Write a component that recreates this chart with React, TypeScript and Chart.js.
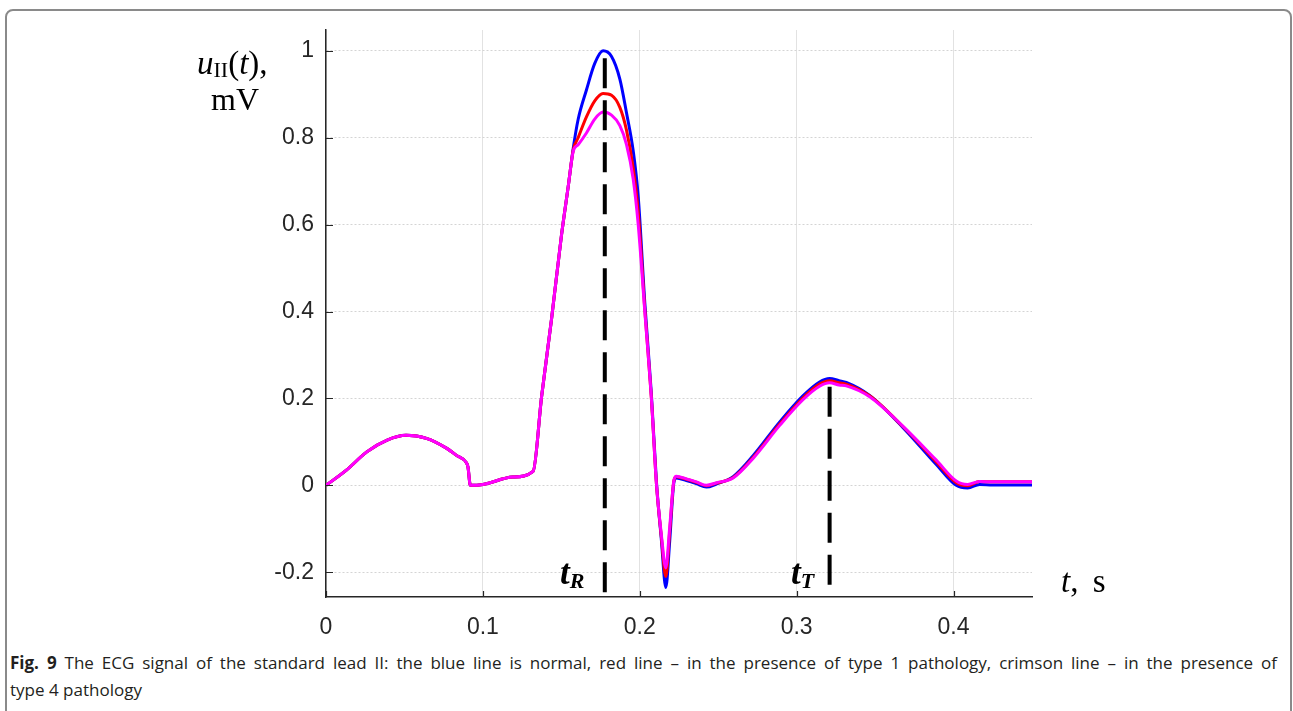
import React, { useEffect, useRef } from 'react';
import { Chart, registerables } from 'chart.js';

Chart.register(...registerables);

// time axis (s)
const timeS = [
  0, 0.013, 0.026, 0.039, 0.051, 0.064, 0.077, 0.0832, 0.0895, 0.0905, 0.092,
  0.1, 0.119, 0.132, 0.1374, 0.1437, 0.15, 0.1544, 0.1576, 0.1607, 0.166,
  0.1713, 0.1766, 0.182, 0.1873, 0.1915, 0.1958, 0.199, 0.2032, 0.2074, 0.2106,
  0.2138, 0.2166, 0.2191, 0.2218, 0.2233, 0.2297, 0.236, 0.2425, 0.2488, 0.2595,
  0.2722, 0.2892, 0.304, 0.3146, 0.321, 0.327, 0.3316, 0.3465, 0.3675, 0.389,
  0.4017, 0.409, 0.4166, 0.425, 0.45,
];

// normal ECG (blue), mV
const normalMv = [
  0, 0.035, 0.077, 0.104, 0.115, 0.108, 0.085, 0.069, 0.052, 0.042, 0.0,
  0.002, 0.019, 0.032, 0.204, 0.381, 0.573, 0.688, 0.776, 0.842, 0.91,
  0.971, 1.0, 0.987, 0.935, 0.858, 0.77, 0.665, 0.42, 0.21, 0.01,
  -0.127, -0.235, -0.127, 0.008, 0.017, 0.011, 0.004, -0.004, 0.003, 0.02,
  0.068, 0.146, 0.206, 0.238, 0.246, 0.241, 0.237, 0.207, 0.134, 0.048,
  0.0, -0.006, 0.002, 0.001, 0.001,
];

// type 1 pathology (red), mV
const type1Mv = [
  0, 0.035, 0.077, 0.104, 0.115, 0.108, 0.085, 0.069, 0.052, 0.042, 0.0,
  0.002, 0.019, 0.032, 0.204, 0.381, 0.573, 0.688, 0.772, 0.8, 0.848,
  0.885, 0.902, 0.898, 0.87, 0.818, 0.73, 0.63, 0.405, 0.2, 0.004,
  -0.12, -0.21, -0.105, 0.012, 0.02, 0.014, 0.007, -0.001, 0.005, 0.018,
  0.064, 0.141, 0.201, 0.233, 0.241, 0.236, 0.233, 0.206, 0.136, 0.054,
  0.006, -0.001, 0.009, 0.008, 0.008,
];

// type 4 pathology (crimson / magenta), mV
const type4Mv = [
  0, 0.035, 0.077, 0.104, 0.115, 0.108, 0.085, 0.069, 0.052, 0.042, 0.0,
  0.002, 0.019, 0.032, 0.204, 0.381, 0.573, 0.688, 0.769, 0.784, 0.811,
  0.843, 0.859, 0.852, 0.828, 0.785, 0.705, 0.6, 0.4, 0.2, 0.004,
  -0.115, -0.19, -0.095, 0.012, 0.021, 0.015, 0.008, 0.0, 0.006, 0.017,
  0.062, 0.138, 0.197, 0.228, 0.236, 0.231, 0.229, 0.204, 0.137, 0.058,
  0.01, 0.002, 0.009, 0.008, 0.008,
];

// marker lines t_R and t_T: [time, top value, bottom value]
const tRMarker = [0.1777, 0.983, -0.26];
const tTMarker = [0.321, 0.227, -0.235];

const xTickValues = [0, 0.1, 0.2, 0.3, 0.4];
const xTickLabels = ['0', '0.1', '0.2', '0.3', '0.4'];
const yTickValues = [-0.2, 0, 0.2, 0.4, 0.6, 0.8, 1];
const yTickLabels = ['-0.2', '0', '0.2', '0.4', '0.6', '0.8', '1'];

const xRange = [0, 0.45];
const yRange = [-0.257, 1.048];

const AXIS = '#262626';
const SERIF = '"Liberation Serif", "Times New Roman", serif';

export default function App() {
  const ref = useRef<HTMLCanvasElement>(null);

  useEffect(() => {
    const toPts = (ys: number[]) => timeS.map((t, i) => ({ x: t, y: ys[i] }));
    const marker = (m: number[]) => [
      { x: m[0], y: m[1] },
      { x: m[0], y: m[2] },
    ];

    const tickMarks = {
      id: 'tickMarks',
      afterDraw(chart: any) {
        const { ctx, chartArea, scales } = chart;
        ctx.save();
        ctx.strokeStyle = AXIS;
        ctx.lineWidth = 1.2;
        ctx.beginPath();
        xTickValues.forEach((v) => {
          const px = Math.round(scales.x.getPixelForValue(v)) + 0.5;
          ctx.moveTo(px, chartArea.bottom);
          ctx.lineTo(px, chartArea.bottom - 6);
        });
        yTickValues.forEach((v) => {
          const py = Math.round(scales.y.getPixelForValue(v)) + 0.5;
          ctx.moveTo(chartArea.left, py);
          ctx.lineTo(chartArea.left + 7, py);
        });
        ctx.stroke();
        ctx.restore();
      },
    };

    const chart = new Chart(ref.current as HTMLCanvasElement, {
      type: 'line',
      data: {
        datasets: [
          {
            label: 't_R',
            data: marker(tRMarker),
            borderColor: '#000000',
            borderWidth: 4,
            borderDash: [30, 12],
            cubicInterpolationMode: 'default',
            tension: 0,
            order: 0,
          },
          {
            label: 't_T',
            data: marker(tTMarker),
            borderColor: '#000000',
            borderWidth: 4,
            borderDash: [30, 12],
            cubicInterpolationMode: 'default',
            tension: 0,
            order: 0,
          },
          {
            label: 'type 4',
            data: toPts(type4Mv),
            borderColor: '#ff00ff',
            borderWidth: 3,
            order: 1,
          },
          {
            label: 'type 1',
            data: toPts(type1Mv),
            borderColor: '#ff0000',
            borderWidth: 3,
            order: 2,
          },
          {
            label: 'normal',
            data: toPts(normalMv),
            borderColor: '#0000ff',
            borderWidth: 3,
            order: 3,
          },
        ],
      } as any,
      options: {
        animation: false,
        responsive: true,
        maintainAspectRatio: false,
        layout: { padding: { left: 0, top: 30, right: 261, bottom: 0 } },
        plugins: {
          legend: { display: false },
          tooltip: { enabled: false },
        },
        elements: {
          point: { radius: 0 },
          line: { cubicInterpolationMode: 'monotone', fill: false },
        },
        scales: {
          x: {
            type: 'linear',
            min: xRange[0],
            max: xRange[1],
            afterBuildTicks: (s: any) => {
              s.ticks = xTickValues.map((v) => ({ value: v }));
            },
            afterFit: (s: any) => {
              s.height = 48;
            },
            ticks: {
              callback: (_v: any, i: number) => xTickLabels[i],
              font: { family: '"Liberation Sans", Arial, sans-serif', size: 23 },
              color: AXIS,
              padding: 17,
              maxRotation: 0,
              autoSkip: false,
            },
            grid: { color: '#e2e2e2', lineWidth: 1, drawTicks: false },
            border: { display: true, color: AXIS, width: 1.5 },
          },
          y: {
            type: 'linear',
            min: yRange[0],
            max: yRange[1],
            afterBuildTicks: (s: any) => {
              s.ticks = yTickValues.map((v) => ({ value: v }));
            },
            afterFit: (s: any) => {
              s.width = 326;
            },
            ticks: {
              callback: (_v: any, i: number) => yTickLabels[i],
              font: { family: '"Liberation Sans", Arial, sans-serif', size: 23 },
              color: AXIS,
              padding: 12,
              autoSkip: false,
            },
            grid: { color: '#d4d4d4', lineWidth: 1, drawTicks: false },
            border: { display: true, color: AXIS, width: 1.5, dash: [2, 2] },
          },
        },
      } as any,
      plugins: [tickMarks],
    });
    return () => chart.destroy();
  }, []);

  const abs = (left: number, top: number, size: number, extra: any = {}) => ({
    position: 'absolute' as const,
    left,
    top,
    fontSize: size,
    lineHeight: `${size}px`,
    fontFamily: SERIF,
    color: '#000',
    whiteSpace: 'nowrap' as const,
    margin: 0,
    ...extra,
  });

  const captionLine = {
    position: 'absolute' as const,
    left: 10,
    fontFamily: '"Open Sans", "Noto Sans", sans-serif',
    fontSize: 17,
    lineHeight: '27px',
    color: '#231f20',
    whiteSpace: 'nowrap' as const,
  };

  return (
    <div
      style={{
        position: 'fixed',
        left: 0,
        top: 0,
        width: 1293,
        height: 711,
        overflow: 'hidden',
        background: '#fff',
      }}
    >
      <div
        style={{
          position: 'absolute',
          left: 5,
          top: 9,
          width: 1287,
          height: 800,
          boxSizing: 'border-box',
          border: '2px solid #8a8a8a',
          borderRadius: 8,
        }}
      />
      <div style={{ position: 'absolute', left: 0, top: 0, width: 1293, height: 645 }}>
        <canvas ref={ref} />
      </div>

      {/* y-axis title */}
      <div style={abs(197, 47, 33)}>
        <i>u</i>
        <span style={{ fontSize: 22, position: 'relative', top: 3 }}>II</span>(<i>t</i>),
      </div>
      <div style={abs(211, 83, 32)}>mV</div>

      {/* x-axis title */}
      <div style={abs(1061, 565, 33, { wordSpacing: 6 })}>
        <i>t</i>, s
      </div>

      {/* markers */}
      <div style={abs(560, 555, 35, { fontWeight: 'bold', fontStyle: 'italic' })}>
        t<span style={{ fontSize: 22, position: 'relative', top: 4 }}>R</span>
      </div>
      <div style={abs(791, 555, 35, { fontWeight: 'bold', fontStyle: 'italic' })}>
        t<span style={{ fontSize: 22, position: 'relative', top: 4 }}>T</span>
      </div>

      {/* caption */}
      <div
        style={{
          ...captionLine,
          top: 649,
          width: 1267,
          textAlign: 'justify',
          textAlignLast: 'justify',
          whiteSpace: 'normal',
        }}
      >
        <b>Fig. 9</b> The ECG signal of the standard lead II: the blue line is normal, red line – in the presence of type 1
        pathology, crimson line – in the presence of
      </div>
      <div style={{ ...captionLine, top: 676 }}>type 4 pathology</div>
    </div>
  );
}
